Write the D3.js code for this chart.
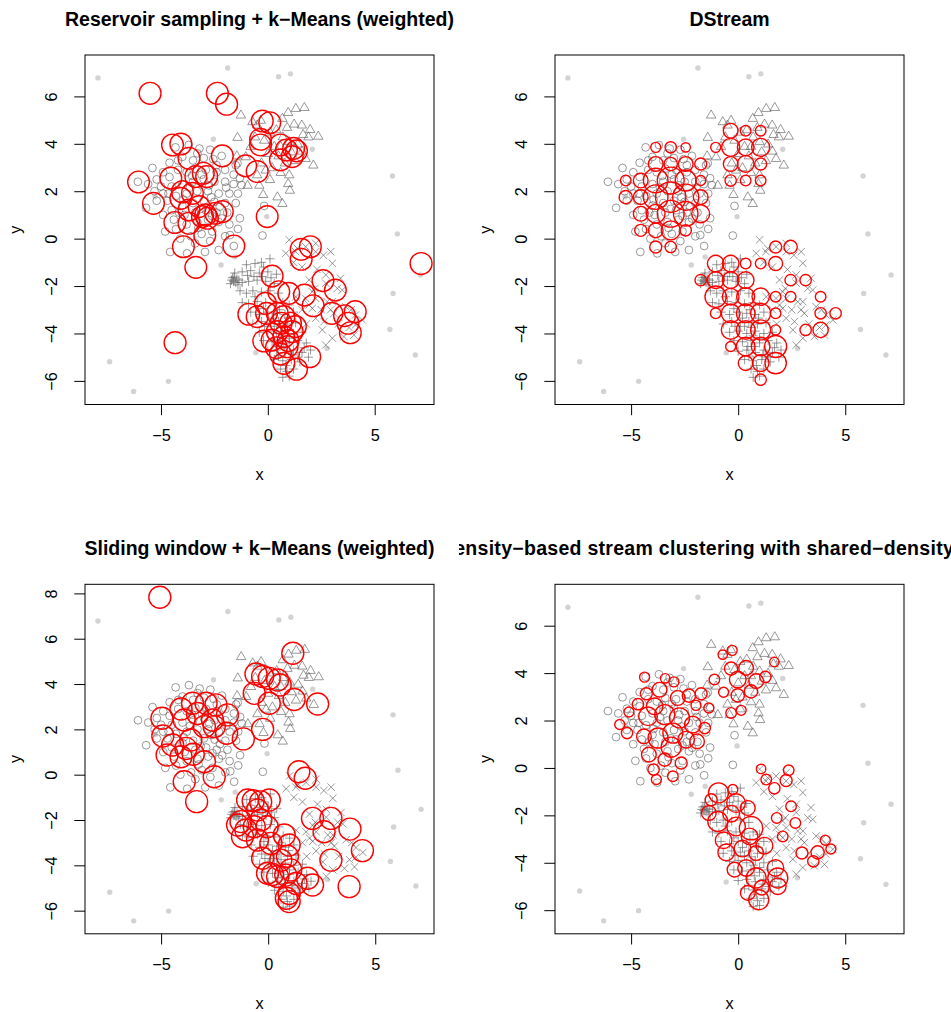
<!DOCTYPE html>
<html>
<head>
<meta charset="utf-8">
<script src="https://cdn.jsdelivr.net/npm/d3@7"></script>
<style>
  body { margin: 0; background: #fff; }
  text { font-family: "Liberation Sans", Arial, Helvetica, sans-serif; }
</style>
</head>
<body>
<div id="chart"></div>
<script>
// grey data points (same stream in every panel)
const circlePts = [
  [-6.08,2.40],[-5.40,2.98],[-4.32,3.85],[-3.70,3.95],[-3.20,3.80],[-2.70,3.75],[-2.16,3.49],[-2.55,3.35],
  [-3.00,3.40],[-3.50,3.30],[-4.00,3.45],[-4.60,3.20],[-4.90,2.80],[-5.20,2.50],[-5.60,2.30],[-5.30,2.00],
  [-5.00,2.20],[-4.60,2.60],[-4.20,2.90],[-3.80,2.80],[-3.40,2.95],[-2.90,2.90],[-2.40,2.80],[-2.00,2.90],
  [-1.60,2.70],[-1.31,2.55],[-1.23,2.26],[-1.60,2.30],[-2.00,2.40],[-2.50,2.40],[-3.00,2.50],[-3.50,2.40],
  [-4.00,2.30],[-4.50,2.20],[-4.90,1.90],[-5.20,1.60],[-4.70,1.60],[-4.30,1.80],[-3.80,1.90],[-3.30,2.00],
  [-2.80,2.00],[-2.30,1.90],[-1.80,1.90],[-1.40,1.90],[-1.50,1.50],[-2.00,1.50],[-2.50,1.55],[-3.00,1.60],
  [-3.50,1.50],[-4.00,1.40],[-4.50,1.20],[-4.90,1.00],[-4.40,0.80],[-3.90,1.00],[-3.40,1.10],[-2.90,1.20],
  [-2.40,1.10],[-1.90,1.10],[-1.31,0.86],[-1.40,0.41],[-1.77,0.15],[-1.80,0.60],[-2.30,0.70],[-2.80,0.80],
  [-3.30,0.70],[-3.80,0.60],[-4.30,0.40],[-4.57,-0.56],[-3.78,-0.62],[-2.94,-0.56],[-2.30,-0.48],[-1.59,-0.31],
  [-2.00,0.10],[-2.60,0.30],[-3.10,0.20],[-3.60,0.10],[-4.10,0.00],[-3.40,-0.20],[-2.70,-0.10],[-0.25,0.13],
  [-0.17,1.38],[-5.70,1.30],[-4.80,0.30],[-4.20,3.30],[-3.30,3.60],[-1.50,3.10],[-2.40,3.10],[-3.10,2.70],
  [-1.42,3.18],[-3.65,2.15],[-2.65,1.75],[-3.15,1.25],[-4.15,1.10],[-2.15,0.85],[-3.55,2.65],[-2.75,2.25],
  [-3.95,1.65],[-2.25,1.35],[-3.25,0.45],[-4.65,1.90],[-1.95,2.15],[-2.60,0.95]
];
const trianglePts = [
  [-1.26,5.22],[-1.42,4.28],[-0.72,4.94],[-0.33,5.00],[-0.50,4.80],[0.68,5.08],[0.95,5.33],[1.31,5.50],
  [1.71,5.54],[1.23,4.84],[1.59,4.80],[1.98,4.61],[2.36,4.33],[1.65,4.40],[1.90,4.30],[1.10,3.67],
  [1.77,3.39],[2.13,3.11],[-1.03,3.46],[-1.45,3.50],[-0.95,2.26],[-0.40,2.26],[-0.22,1.87],[0.45,1.77],
  [0.68,1.49],[1.03,2.05],[0.95,2.33],[-0.17,4.16],[0.10,4.50],[0.40,4.60],[0.70,4.30],[1.00,4.10],
  [0.30,3.90],[0.00,3.60],[0.50,3.50],[0.80,3.20],[1.30,3.30],[-0.30,3.20],[0.20,3.00],[0.60,2.80],
  [1.00,2.70],[-0.50,2.70],[0.10,2.50],[-0.80,3.90],[-0.60,4.30],[0.90,4.70],[1.40,4.00],[1.60,3.70],
  [0.60,3.90],[-0.10,2.90]
];
const plusPts = [
  [0.10,-0.85],[-0.30,-1.00],[-0.60,-1.05],[-1.00,-1.10],[-0.20,-1.20],
  [-1.55,-1.45],[-1.20,-1.40],[-0.80,-1.35],[-0.40,-1.45],[0.00,-1.40],[0.40,-1.50],
  [-1.70,-1.75],[-1.60,-1.80],[-1.45,-1.70],[-1.20,-1.85],[-0.90,-1.80],[-0.50,-1.75],[-0.10,-1.80],[0.30,-1.90],
  [-1.30,-2.20],[-1.00,-2.30],[-0.70,-2.20],[-0.30,-2.25],[0.10,-2.20],[0.50,-2.30],
  [-1.20,-2.70],[-0.90,-2.75],[-0.50,-2.65],[-0.10,-2.70],[0.30,-2.75],[0.70,-2.70],[1.00,-2.80],
  [-0.80,-3.10],[-0.40,-3.20],[0.00,-3.10],[0.40,-3.15],[0.80,-3.20],[1.20,-3.10],
  [-0.70,-3.60],[-0.30,-3.50],[0.10,-3.55],[0.50,-3.50],[0.90,-3.60],[1.30,-3.55],
  [-0.40,-3.95],[0.00,-3.90],[0.40,-4.00],[0.80,-3.90],[1.20,-4.00],[1.60,-3.95],
  [-0.20,-4.30],[0.20,-4.35],[0.60,-4.30],[1.00,-4.40],[1.40,-4.30],[1.80,-4.40],
  [0.00,-4.75],[0.40,-4.70],[0.80,-4.80],[1.20,-4.70],[1.60,-4.80],[2.00,-4.70],
  [0.30,-5.10],[0.70,-5.15],[1.10,-5.10],[1.50,-5.20],[1.90,-5.00],
  [0.60,-5.50],[0.90,-5.60],[1.20,-5.50],[0.70,-5.85],[1.00,-5.80],
  [-1.65,-1.65],[-1.50,-1.85],[-1.35,-1.75],[0.20,-3.35],[0.60,-3.75],[1.00,-4.20],[0.45,-4.55],
  [0.85,-5.35],[-0.60,-2.45],[-0.20,-2.95],[1.40,-5.00],[0.70,-4.10],[-0.15,-3.70],
  [-1.75,-1.90],[-1.58,-1.62],[-1.40,-1.95],[-0.95,-1.55],[-0.65,-1.60],[-0.25,-1.60],[0.15,-1.65],
  [0.55,-3.00],[0.95,-3.35],[0.30,-3.70],[0.75,-4.55],[1.15,-4.90],[0.50,-4.95],[1.70,-4.60]
];
const crossPts = [
  [1.00,-0.05],[0.84,-0.62],[1.30,-0.55],[1.38,-0.41],[1.77,-0.34],[2.24,-0.20],[2.24,-0.55],[2.60,-0.70],
  [2.94,-0.55],[3.02,-1.04],[1.20,-1.00],[1.60,-1.20],[1.93,-1.74],[2.30,-1.30],[2.71,-1.53],[2.71,-1.88],
  [3.40,-1.67],[3.25,-2.10],[3.48,-2.17],[2.20,-2.10],[1.77,-2.52],[2.08,-2.24],[2.24,-2.52],[2.78,-2.66],
  [3.02,-2.66],[1.93,-2.80],[2.08,-2.94],[2.50,-3.00],[2.94,-3.00],[3.09,-3.15],[3.64,-2.87],[3.90,-3.00],
  [4.10,-3.22],[4.42,-3.43],[4.10,-3.64],[4.03,-4.07],[3.56,-4.13],[3.02,-4.20],[2.71,-4.49],[2.55,-3.85],
  [2.24,-3.36],[2.63,-3.50],[3.30,-3.60],[3.80,-3.75],[1.31,-2.45],[1.60,-3.00],[1.80,-3.60]
];
const noisePts = [
  [-7.95,6.78],[-1.88,7.20],[0.50,6.83],[1.06,6.95],[-2.55,4.19],[2.08,3.77],[5.83,2.64],[-0.05,0.93],
  [6.06,0.20],[-2.19,-1.11],[-1.54,-0.77],[7.14,-1.53],[5.86,-2.31],[5.71,-3.83],[2.77,-4.63],[6.90,-4.91],
  [-7.40,-5.19],[-4.65,-6.02],[-6.28,-6.45],[-0.56,-4.81],[-5.28,1.77]
];

// cluster centres [x, y, weight]
const reservoirCenters = [
  [-5.51,6.13,120],[-2.36,6.13,120],[-1.93,5.67,120],[-0.26,4.96,118],[0.09,4.89,118],[-0.34,4.19,118],
  [-0.34,3.95,118],[0.59,3.95,118],[0.87,3.74,118],[1.21,3.81,118],[1.34,3.70,118],[1.14,3.46,118],
  [0.59,3.32,118],[-1.04,3.07,118],[-0.50,2.83,118],[-2.13,3.49,118],[-4.46,3.95,118],[-4.07,3.99,118],
  [-3.69,3.39,118],[-6.05,2.39,118],[-4.54,2.55,118],[-3.02,2.76,118],[-2.86,2.62,118],[-5.35,1.49,118],
  [-4.00,1.98,118],[-3.53,1.91,118],[-3.69,1.21,118],[-3.22,1.35,118],[-2.91,1.00,118],[-2.83,0.86,118],
  [-3.06,0.93,118],[-2.13,1.14,118],[-2.44,1.07,118],[-4.35,0.68,118],[-3.69,0.65,118],[-2.95,0.14,118],
  [-3.95,-0.34,118],[-1.59,-0.31,118],[-3.37,-1.21,118],[-0.03,0.93,118],[1.56,-0.45,118],[1.99,-0.34,118],
  [1.56,-0.87,118],[0.20,-1.58,118],[0.51,-2.24,118],[0.98,-2.31,118],[1.71,-2.38,118],[2.12,-2.83,118],
  [2.58,-1.77,118],[3.16,-2.17,118],[-0.89,-3.19,118],[-0.50,-3.29,118],[-0.11,-2.73,118],[0.44,-3.15,118],
  [0.62,-3.57,118],[1.29,-3.71,118],[1.14,-3.92,118],[0.75,-4.14,118],[-0.19,-4.32,118],[0.90,-4.56,118],
  [0.59,-4.87,118],[0.75,-5.26,118],[1.34,-5.51,118],[1.96,-4.98,118],[3.00,-3.15,118],[3.59,-3.25,118],
  [4.09,-3.08,118],[3.75,-3.57,118],[3.86,-3.97,118],[7.17,-1.05,120],[-4.34,-4.39,120],[-0.06,-3.15,118],
  [0.44,-3.92,118],[0.20,-4.28,118],[1.06,-3.57,118],[0.75,-3.29,118],[0.95,-4.30,118],[0.40,-4.60,118],
  [-3.37,2.62,118],[-4.07,1.70,118]
];
const dstreamCenters = [
  [-3.85,3.85,25],[-3.15,3.85,32],[-2.45,3.85,22],[-1.05,3.85,25],
  [-3.85,3.15,54],[-3.15,3.15,44],[-2.45,3.15,54],[-1.75,3.15,36],
  [-5.25,2.45,28],[-4.55,2.45,54],[-3.85,2.45,150],[-3.15,2.45,180],[-2.45,2.45,110],[-1.75,2.45,25],
  [-5.25,1.75,44],[-4.55,1.75,54],[-3.85,1.75,150],[-3.15,1.75,230],[-2.45,1.75,170],[-1.75,1.75,54],
  [-4.55,1.05,54],[-3.85,1.05,87],[-3.15,1.05,180],[-2.45,1.05,150],[-1.75,1.05,80],
  [-4.55,0.35,36],[-3.85,0.35,54],[-3.15,0.35,90],[-2.45,0.35,32],
  [-3.85,-0.35,36],[-3.15,-0.35,32],
  [-0.35,4.55,54],[0.35,4.55,28],[1.05,4.55,28],
  [-0.35,3.85,81],[0.35,3.85,69],[1.05,3.85,81],
  [-0.35,3.15,54],[0.35,3.15,69],[1.05,3.15,36],
  [-0.35,2.45,32],[0.35,2.45,28],[1.05,2.45,28],
  [1.75,-0.35,36],[2.45,-0.35,44],
  [-1.05,-1.05,69],[-0.35,-1.05,69],[0.35,-1.05,28],[1.05,-1.05,28],[1.75,-1.05,49],
  [-1.75,-1.75,32],[-1.05,-1.75,69],[-0.35,-1.75,69],[0.35,-1.75,69],[2.45,-1.75,32],[3.15,-1.75,32],
  [-1.05,-2.45,114],[-0.35,-2.45,69],[0.35,-2.45,81],[1.05,-2.45,75],[1.75,-2.45,28],[2.45,-2.45,28],[3.85,-2.45,28],
  [-1.05,-3.15,28],[-0.35,-3.15,87],[0.35,-3.15,87],[1.05,-3.15,100],[1.75,-3.15,28],[3.85,-3.15,32],[4.55,-3.15,32],
  [-0.35,-3.85,87],[0.35,-3.85,87],[1.05,-3.85,100],[1.75,-3.85,25],[3.15,-3.85,32],[3.85,-3.85,59],
  [-0.35,-4.55,25],[0.35,-4.55,87],[1.05,-4.55,87],[1.75,-4.55,121],
  [0.35,-5.25,54],[1.05,-5.25,69],[1.75,-5.25,114],
  [1.05,-5.95,32]
];
const windowCenters = [
  [-5.06,7.83,121],[1.15,5.36,121],[-0.57,4.44,121],[-0.26,4.33,121],[0.05,4.25,121],[0.44,4.18,121],
  [0.56,3.96,121],[-0.65,3.59,121],[0.05,3.15,121],[1.21,3.32,121],[2.31,3.12,121],[-0.26,2.00,121],
  [-4.96,2.49,121],[-4.92,1.71,121],[-4.07,2.90,121],[-3.53,3.15,121],[-2.90,3.15,121],[-2.44,3.08,121],
  [-1.90,2.64,121],[-3.92,2.41,121],[-3.30,2.70,121],[-2.60,2.41,121],[-2.98,2.12,121],[-2.52,2.12,121],
  [-1.94,1.83,121],[-1.16,1.58,121],[-4.46,1.31,121],[-3.61,1.53,121],[-3.84,1.16,121],[-4.72,0.87,121],
  [-4.07,0.79,121],[-3.50,0.90,121],[-2.98,0.57,121],[-2.52,-0.09,121],[-3.92,-0.31,121],[-3.34,-1.19,121],
  [1.43,0.13,121],[1.73,-0.16,121],
  [-0.96,-1.12,121],[-0.70,-1.15,121],[-0.35,-1.20,121],[0.05,-1.12,121],[-0.50,-1.56,121],[-1.27,-2.07,121],
  [-1.04,-2.44,121],[-0.34,-2.00,121],[-0.05,-2.30,121],[-0.50,-2.88,121],[0.13,-3.03,121],[0.75,-2.66,121],
  [0.98,-3.10,121],[-0.26,-3.69,121],[0.59,-3.77,121],[0.90,-3.60,121],[-0.03,-4.35,121],[0.20,-4.40,121],
  [0.44,-4.50,121],[0.82,-4.43,121],[1.05,-4.20,121],[1.84,-4.57,121],[2.07,-4.87,121],[0.98,-5.24,121],
  [0.98,-5.60,121],[0.85,-5.45,121],[1.30,-4.80,121],[2.07,-1.93,121],[2.93,-1.93,121],[2.61,-2.52,121],
  [3.82,-2.40,121],[2.93,-3.77,121],[3.78,-4.94,121],[4.40,-3.35,121],[-1.43,-2.22,121],[-1.20,-2.74,121],
  [-0.65,-2.30,121]
];
const dbstreamCenters = [
  [-4.37,3.83,25],[-3.41,3.78,22],[-3.00,3.63,25],[-4.29,3.13,36],[-3.67,3.30,54],[-2.82,2.95,54],
  [-2.30,3.05,44],[-1.73,3.13,36],[-1.97,2.64,25],[-1.37,2.53,25],[-4.68,2.69,32],[-5.10,2.36,25],
  [-5.53,1.83,25],[-5.19,1.47,32],[-4.21,2.18,87],[-3.43,2.25,100],[-3.90,2.60,69],[-2.74,2.11,100],
  [-2.12,1.83,69],[-1.56,1.68,32],[-4.40,1.33,54],[-3.74,1.26,100],[-3.05,1.47,100],[-3.13,0.88,100],
  [-2.43,1.19,69],[-1.92,1.12,54],[-4.17,0.56,54],[-3.43,0.35,44],[-2.66,0.21,36],[-3.95,-0.07,32],
  [-3.82,-0.49,25],[-3.05,-0.35,28],
  [-0.72,4.78,22],[-0.28,4.96,25],[1.69,4.47,22],[-0.33,4.19,44],[0.37,4.22,54],[-1.11,3.73,28],
  [-0.02,3.73,69],[0.84,3.66,54],[1.27,3.84,32],[-0.68,3.19,25],[-0.02,3.06,44],[0.60,3.23,44],
  [-0.33,2.32,28],[0.14,2.43,25],
  [1.07,-0.04,22],[2.36,-0.10,28],[1.31,-0.49,28],[2.24,-0.53,36],[1.69,-0.86,32],[-0.25,-0.91,25],
  [-0.92,-1.05,100],[-1.26,-1.34,36],[-0.10,-1.48,87],[0.45,-1.69,54],[-1.37,-1.90,54],[-0.33,-1.93,69],
  [-0.95,-2.26,100],[0.60,-2.54,136],[-0.10,-2.47,87],[1.23,-3.28,69],[-0.68,-3.05,69],[0.53,-2.89,69],
  [-0.56,-3.56,69],[0.20,-3.40,69],[0.84,-3.59,54],[-0.17,-4.29,54],[0.37,-4.22,69],[0.84,-4.64,100],
  [1.74,-4.22,69],[1.85,-4.64,100],[1.85,-4.99,69],[0.45,-5.27,54],[0.96,-5.56,100],[1.10,-5.05,54],
  [2.47,-1.62,28],[1.80,-2.11,28],[2.67,-2.32,28],[2.08,-2.89,28],[2.98,-3.59,36],[3.51,-3.94,32],
  [3.71,-3.56,44],[4.07,-3.05,25],[4.33,-3.42,25]
];

const titles = [
  'Reservoir sampling + k\u2212Means (weighted)',
  'DStream',
  'Sliding window + k\u2212Means (weighted)',
  'Density\u2212based stream clustering with shared\u2212density'
];
const xTicks = [-5, 0, 5];
const yTicks = [-6, -4, -2, 0, 2, 4, 6];
const yTicksWide = [-6, -4, -2, 0, 2, 4, 6, 8];

const BOX_W = 349;
const BOX_H = 349.5;
const GREY = 'rgba(90,90,90,0.62)';
const TRIANGLE = 'M0,-4.9L4.7,3.2L-4.7,3.2Z';
const PLUS = 'M-4.6,0H4.6M0,-4.6V4.6';
const CROSS = 'M-3.7,-3.7L3.7,3.7M-3.7,3.7L3.7,-3.7';

const panels = [
  { left: 85,  top: 55,    title: titles[0], centers: reservoirCenters, yTicks: yTicks },
  { left: 555, top: 55,    title: titles[1], centers: dstreamCenters,   yTicks: yTicks },
  { left: 85,  top: 584.3, title: titles[2], centers: windowCenters,    yTicks: yTicksWide },
  { left: 555, top: 584.3, title: titles[3], centers: dbstreamCenters,  yTicks: yTicks, clipTitle: true }
];

const svg = d3.select('#chart').append('svg')
  .attr('width', 951)
  .attr('height', 1012)
  .style('background', '#fff');

const defs = svg.append('defs');
const radius = d3.scaleSqrt().domain([0, 100]).range([0, 10]);

// R style axis range: data range widened by 4% on each side
function padded (vals) {
  const [lo, hi] = d3.extent(vals);
  const d = (hi - lo) * 0.04;
  return [lo - d, hi + d];
}

const allGrey = [].concat(circlePts, trianglePts, plusPts, crossPts, noisePts);

panels.forEach((p, i) => {
  const pts = allGrey.concat(p.centers);
  const x = d3.scaleLinear().domain(padded(pts.map(d => d[0]))).range([0, BOX_W]);
  const y = d3.scaleLinear().domain(padded(pts.map(d => d[1]))).range([BOX_H, 0]);

  const g = svg.append('g').attr('transform', `translate(${p.left},${p.top})`);

  defs.append('clipPath').attr('id', 'clip' + i)
    .append('rect').attr('width', BOX_W).attr('height', BOX_H);
  const plot = g.append('g').attr('clip-path', `url(#clip${i})`);

  plot.selectAll('.noise').data(noisePts).enter().append('circle')
    .attr('cx', d => x(d[0])).attr('cy', d => y(d[1])).attr('r', 2.7)
    .attr('fill', '#d3d3d3');
  plot.selectAll('.c1').data(circlePts).enter().append('circle')
    .attr('cx', d => x(d[0])).attr('cy', d => y(d[1])).attr('r', 3.9)
    .attr('fill', 'none').attr('stroke', GREY).attr('stroke-width', 1);
  plot.selectAll('.c2').data(trianglePts).enter().append('path')
    .attr('transform', d => `translate(${x(d[0])},${y(d[1])})`).attr('d', TRIANGLE)
    .attr('fill', 'none').attr('stroke', GREY).attr('stroke-width', 1);
  plot.selectAll('.c3').data(plusPts).enter().append('path')
    .attr('transform', d => `translate(${x(d[0])},${y(d[1])})`).attr('d', PLUS)
    .attr('fill', 'none').attr('stroke', GREY).attr('stroke-width', 1);
  plot.selectAll('.c4').data(crossPts).enter().append('path')
    .attr('transform', d => `translate(${x(d[0])},${y(d[1])})`).attr('d', CROSS)
    .attr('fill', 'none').attr('stroke', GREY).attr('stroke-width', 1);

  plot.selectAll('.mc').data(p.centers).enter().append('circle')
    .attr('cx', d => x(d[0])).attr('cy', d => y(d[1])).attr('r', d => radius(d[2]))
    .attr('fill', 'none').attr('stroke', '#ff0000').attr('stroke-width', 1.4);

  // box
  g.append('rect').attr('width', BOX_W).attr('height', BOX_H)
    .attr('fill', 'none').attr('stroke', '#000').attr('stroke-width', 1);

  // x axis
  const xg = g.append('g').attr('transform', `translate(0,${BOX_H})`)
    .call(d3.axisBottom(x).tickValues(xTicks).tickSize(10.7).tickSizeOuter(0));
  xg.select('.domain').remove();
  xg.selectAll('line').attr('stroke', '#000');
  xg.selectAll('text').attr('y', 36.7).attr('dy', 0)
    .attr('font-size', 16.3).attr('fill', '#000')
    .style('font-family', '"Liberation Sans", Arial, sans-serif');

  // y axis
  const yg = g.append('g')
    .call(d3.axisLeft(y).tickValues(p.yTicks).tickSize(10.7).tickSizeOuter(0));
  yg.select('.domain').remove();
  yg.selectAll('line').attr('stroke', '#000');
  yg.selectAll('text').attr('x', 0).attr('dy', 0)
    .attr('transform', 'translate(-28,0) rotate(-90)')
    .attr('text-anchor', 'middle')
    .attr('font-size', 16.3).attr('fill', '#000')
    .style('font-family', '"Liberation Sans", Arial, sans-serif');

  // axis labels
  g.append('text').attr('x', BOX_W / 2).attr('y', BOX_H + 75)
    .attr('text-anchor', 'middle').attr('font-size', 16.3).text('x');
  g.append('text')
    .attr('transform', `translate(-64.5,${BOX_H / 2}) rotate(-90)`)
    .attr('text-anchor', 'middle').attr('font-size', 16.3).text('y');

  // title (the long one is cut by the figure region, as in the original)
  if (p.clipTitle) {
    defs.append('clipPath').attr('id', 'tclip' + i)
      .append('rect').attr('x', 459 - p.left).attr('y', -60).attr('width', 492).attr('height', 60);
    g.append('text')
      .attr('clip-path', `url(#tclip${i})`)
      .attr('x', 439.8 - p.left).attr('y', -29)
      .attr('font-size', 19.5).attr('font-weight', 'bold')
      .attr('textLength', 514).attr('lengthAdjust', 'spacing')
      .text(p.title);
  } else {
    g.append('text').attr('x', BOX_W / 2).attr('y', -29)
      .attr('text-anchor', 'middle').attr('font-size', 19.5).attr('font-weight', 'bold')
      .text(p.title);
  }
});
</script>
</body>
</html>
